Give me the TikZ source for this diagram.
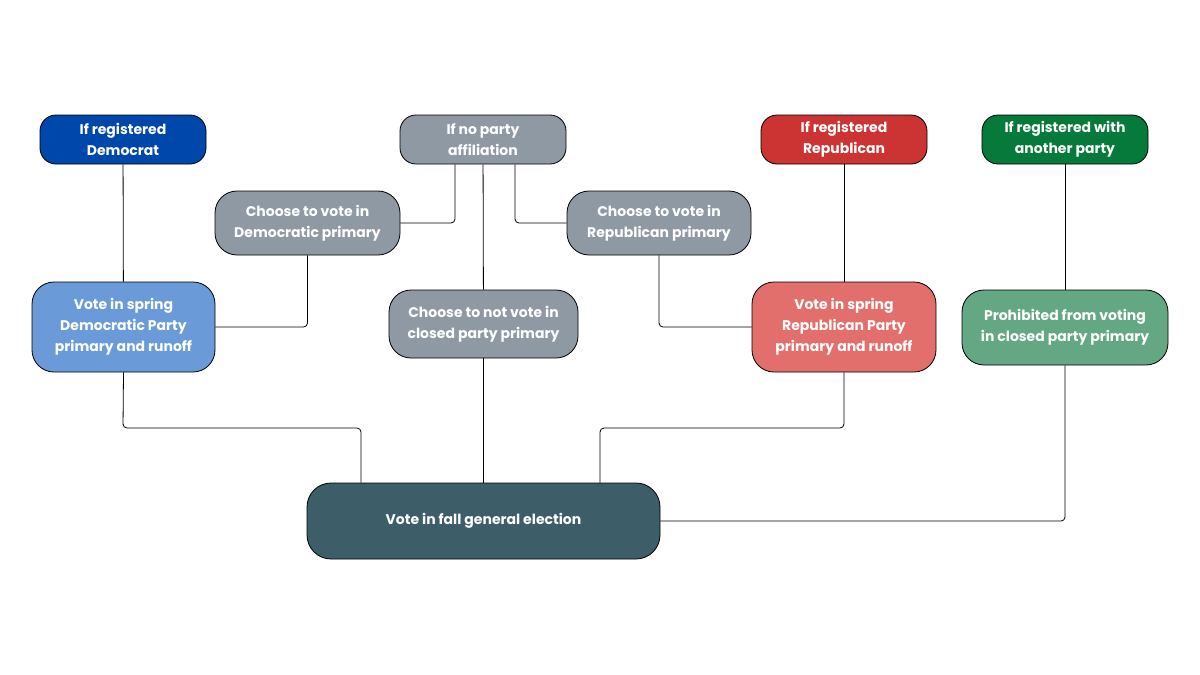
\documentclass[tikz,border=0pt]{standalone}
\usepackage{fontspec}
\setmainfont{Poppins}
\begin{document}
\begin{tikzpicture}[x=1pt,y=-1pt,
  box/.style={draw=black,line width=0.8pt,rounded corners=16pt,text=white,align=center,
    font=\bfseries\fontsize{14}{21}\selectfont,inner sep=0pt},
  ln/.style={line width=0.8pt,rounded corners=4pt}]
\useasboundingbox (0,0) rectangle (1200,675);
\definecolor{dem}{HTML}{0047AB}\definecolor{gry}{HTML}{8E99A3}
\definecolor{rep}{HTML}{CC3333}\definecolor{oth}{HTML}{067A3A}
\definecolor{ldem}{HTML}{6A9BD8}\definecolor{lrep}{HTML}{E36F6C}
\definecolor{loth}{HTML}{63A882}\definecolor{gen}{HTML}{3D5E69}
\node[box,fill=dem,minimum width=166pt,minimum height=49pt] (d) at (123,139.5) {If registered\\Democrat};
\node[box,fill=gry,minimum width=166pt,minimum height=49pt] (n) at (483,139.5) {If no party\\affiliation};
\node[box,fill=rep,minimum width=166pt,minimum height=49pt] (r) at (844,139.5) {If registered\\Republican};
\node[box,fill=oth,minimum width=166pt,minimum height=49pt] (o) at (1065,139.5) {If registered with\\another party};
\node[box,fill=gry,minimum width=185pt,minimum height=64pt,rounded corners=22pt] (cd) at (307.5,223) {Choose to vote in\\Democratic primary};
\node[box,fill=gry,minimum width=184pt,minimum height=64pt,rounded corners=22pt] (cr) at (659,223) {Choose to vote in\\Republican primary};
\node[box,fill=ldem,minimum width=183pt,minimum height=90pt,rounded corners=22pt] (vd) at (123.5,327) {Vote in spring\\Democratic Party\\primary and runoff};
\node[box,fill=gry,minimum width=189pt,minimum height=68pt,rounded corners=22pt] (nv) at (483.5,324) {Choose to not vote in\\closed party primary};
\node[box,fill=lrep,minimum width=184pt,minimum height=90pt,rounded corners=22pt] (vr) at (844,327) {Vote in spring\\Republican Party\\primary and runoff};
\node[box,fill=loth,minimum width=206pt,minimum height=75pt,rounded corners=22pt] (p) at (1065,327.5) {Prohibited from voting\\in closed party primary};
\node[box,fill=gen,minimum width=353pt,minimum height=76pt,rounded corners=24pt] (g) at (483.5,521) {Vote in fall general election};
\draw[ln] (d) -- (vd);
\draw[ln] (n.south -| 455,0) |- (cd.east);
\draw[ln] (n.south -| 515,0) |- (cr.west);
\draw[ln] (n) -- (nv);
\draw[ln] (cd.south) |- (vd.east);
\draw[ln] (cr.south) |- (vr.west);
\draw[ln] (r) -- (vr);
\draw[ln] (o) -- (p);
\draw[ln] (vd.south) -- (123,428) -- (361,428) -- (g.north -| 361,0);
\draw[ln] (nv) -- (g);
\draw[ln] (vr.south) -- (844,428) -- (600,428) -- (g.north -| 600,0);
\draw[ln] (p.south) |- (g.east);
\end{tikzpicture}
\end{document}
